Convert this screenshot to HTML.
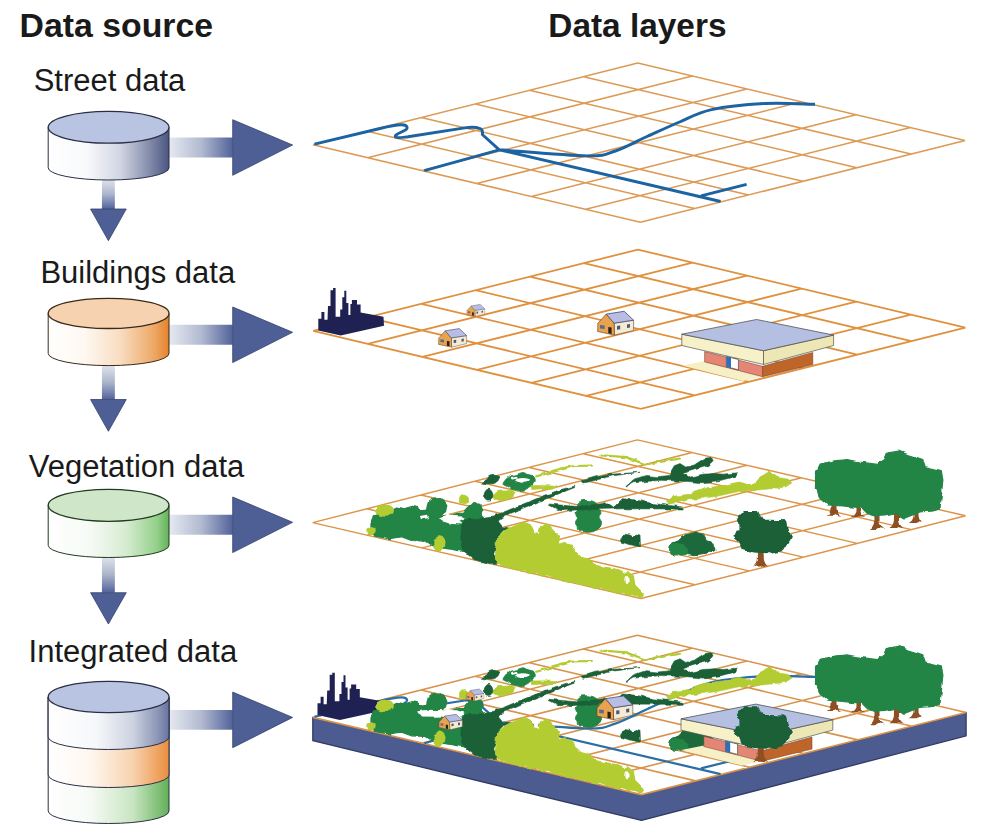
<!DOCTYPE html><html><head><meta charset="utf-8"><style>
html,body{margin:0;padding:0;background:#fff;}
svg{display:block;}
text{font-family:"Liberation Sans",sans-serif;fill:#1a1a1a;}
</style></head><body>
<svg width="982" height="836" viewBox="0 0 982 836">
<defs>
<linearGradient id="ah" x1="0" x2="1" y1="0" y2="0"><stop offset="0" stop-color="#e6e9f1"/><stop offset="0.5" stop-color="#b3bbd1"/><stop offset="1" stop-color="#52639a"/></linearGradient>
<linearGradient id="av" x1="0" x2="0" y1="0" y2="1"><stop offset="0" stop-color="#e2e5ee"/><stop offset="0.5" stop-color="#acb5cc"/><stop offset="1" stop-color="#52639a"/></linearGradient>
<linearGradient id="cb" x1="0" x2="1"><stop offset="0" stop-color="#fff"/><stop offset="0.32" stop-color="#f8f9fb"/><stop offset="0.6" stop-color="#d0d5e2"/><stop offset="0.85" stop-color="#8088a8"/><stop offset="1" stop-color="#4a5580"/></linearGradient>
<linearGradient id="co" x1="0" x2="1"><stop offset="0" stop-color="#fff"/><stop offset="0.3" stop-color="#fef8f2"/><stop offset="0.6" stop-color="#f8dcc0"/><stop offset="0.88" stop-color="#eda764"/><stop offset="1" stop-color="#e5822a"/></linearGradient>
<linearGradient id="cg" x1="0" x2="1"><stop offset="0" stop-color="#fff"/><stop offset="0.35" stop-color="#f6faf5"/><stop offset="0.65" stop-color="#d5ebd0"/><stop offset="0.9" stop-color="#94d08a"/><stop offset="1" stop-color="#62b25a"/></linearGradient>
<filter id="rough" x="-2%" y="-10%" width="104%" height="120%"><feTurbulence type="fractalNoise" baseFrequency="0.15" numOctaves="1" seed="4" result="n"/><feDisplacementMap in="SourceGraphic" in2="n" scale="4.5" xChannelSelector="R" yChannelSelector="G"/></filter>
<linearGradient id="cb2" x1="0" x2="1"><stop offset="0" stop-color="#fff"/><stop offset="0.4" stop-color="#f6f7fa"/><stop offset="0.7" stop-color="#ccd2e0"/><stop offset="0.9" stop-color="#8e98b8"/><stop offset="1" stop-color="#6874a0"/></linearGradient>
<linearGradient id="co2" x1="0" x2="1"><stop offset="0" stop-color="#fff"/><stop offset="0.35" stop-color="#fef7f0"/><stop offset="0.7" stop-color="#f8d2ae"/><stop offset="1" stop-color="#ea8e3e"/></linearGradient>
<linearGradient id="cg2" x1="0" x2="1"><stop offset="0" stop-color="#fff"/><stop offset="0.35" stop-color="#f6faf5"/><stop offset="0.7" stop-color="#c9e5c2"/><stop offset="1" stop-color="#62b058"/></linearGradient>
</defs>
<rect width="982" height="836" fill="#fff"/>

<text x="19.6" y="37.1" font-size="33.8" font-weight="bold">Data source</text>
<text x="548.3" y="37.4" font-size="33.4" font-weight="bold">Data layers</text>
<text x="33.7" y="91" font-size="31">Street data</text>
<text x="40.4" y="283" font-size="31">Buildings data</text>
<text x="28.8" y="476.5" font-size="31">Vegetation data</text>
<text x="28.6" y="661.5" font-size="31">Integrated data</text>
<path d="M169 137.55L232.7 137.55L232.7 157.45L169 157.45Z" fill="url(#ah)"/><path d="M232.7 119.7L292.6 145.0L232.7 175.3Z" fill="#4d5f95" stroke="#34426e" stroke-width="0.8" stroke-linejoin="round"/>
<path d="M101.95 179L114.85000000000001 179L114.85000000000001 209L101.95 209Z" fill="url(#av)"/><path d="M90.55000000000001 209L126.25 209L108.4 240.7Z" fill="#4d5f95" stroke="#34426e" stroke-width="0.8" stroke-linejoin="round"/>
<path d="M169 324.85L232.7 324.85L232.7 344.75L169 344.75Z" fill="url(#ah)"/><path d="M232.7 307.0L292.6 332.3L232.7 362.6Z" fill="#4d5f95" stroke="#34426e" stroke-width="0.8" stroke-linejoin="round"/>
<path d="M101.95 365L114.85000000000001 365L114.85000000000001 399.5L101.95 399.5Z" fill="url(#av)"/><path d="M90.55000000000001 399.5L126.25 399.5L108.4 431.3Z" fill="#4d5f95" stroke="#34426e" stroke-width="0.8" stroke-linejoin="round"/>
<path d="M169 514.8499999999999L232.7 514.8499999999999L232.7 534.75L169 534.75Z" fill="url(#ah)"/><path d="M232.7 496.99999999999994L292.6 522.3L232.7 552.5999999999999Z" fill="#4d5f95" stroke="#34426e" stroke-width="0.8" stroke-linejoin="round"/>
<path d="M101.95 556L114.85000000000001 556L114.85000000000001 592.7L101.95 592.7Z" fill="url(#av)"/><path d="M90.55000000000001 592.7L126.25 592.7L108.4 624Z" fill="#4d5f95" stroke="#34426e" stroke-width="0.8" stroke-linejoin="round"/>
<path d="M169 709.9499999999999L232.7 709.9499999999999L232.7 729.85L169 729.85Z" fill="url(#ah)"/><path d="M232.7 692.1L292.6 717.4L232.7 747.6999999999999Z" fill="#4d5f95" stroke="#34426e" stroke-width="0.8" stroke-linejoin="round"/>
<path d="M48.199999999999996 127.30000000000001L48.199999999999996 167.8A60.4 12.2 0 0 0 169.0 167.8L169.0 127.30000000000001Z" fill="url(#cb)" stroke="#2a2f45" stroke-width="1"/><ellipse cx="108.6" cy="127.30000000000001" rx="60.4" ry="15.9" fill="#b9c4e2" stroke="#2a2f45" stroke-width="1.3"/>
<path d="M48.199999999999996 313.40000000000003L48.199999999999996 353.40000000000003A60.4 12.2 0 0 0 169.0 353.40000000000003L169.0 313.40000000000003Z" fill="url(#co)" stroke="#3a2a1a" stroke-width="1"/><ellipse cx="108.6" cy="313.40000000000003" rx="60.4" ry="15.1" fill="#f6d2b0" stroke="#3a2a1a" stroke-width="1.3"/>
<path d="M48.199999999999996 505.3L48.199999999999996 545.3A60.4 12.2 0 0 0 169.0 545.3L169.0 505.3Z" fill="url(#cg)" stroke="#1f3a1f" stroke-width="1"/><ellipse cx="108.6" cy="505.3" rx="60.4" ry="16" fill="#cfe6c9" stroke="#1f3a1f" stroke-width="1.3"/>
<g>
<path d="M48.2 697L48.2 811A60.4 12.5 0 0 0 169 811L169 697Z" fill="url(#cg2)" stroke="#2a2f45" stroke-width="1"/>
<path d="M48.2 697L48.2 775A60.4 12.5 0 0 0 169 775L169 697Z" fill="url(#co2)" stroke="#2a2f45" stroke-width="1"/>
<path d="M48.2 697L48.2 737A60.4 12.5 0 0 0 169 737L169 697Z" fill="url(#cb2)" stroke="#2a2f45" stroke-width="1"/>
<ellipse cx="108.6" cy="697" rx="60.4" ry="15.7" fill="#b9c4e2" stroke="#2a2f45" stroke-width="1.3"/>
</g>
<path d="M313.0 144.8L640.4 222.2M313.0 144.8L637.7 63.1M367.1 131.2L694.5 208.6M367.6 157.7L692.3 76.0M421.2 117.6L748.6 195.0M422.1 170.6L746.8 88.9M475.4 104.0L802.8 181.3M476.7 183.5L801.4 101.8M529.5 90.3L856.9 167.7M531.3 196.4L856.0 114.7M583.6 76.7L911.0 154.1M585.8 209.3L910.5 127.6M637.7 63.1L965.1 140.5M640.4 222.2L965.1 140.5" stroke="#dc9a55" stroke-width="1.5" fill="none"/>
<path d="M313.2 330.9L640.7 408.9M313.2 330.9L637.9 249.6M367.3 317.3L694.8 395.3M367.8 343.9L692.5 262.6M421.4 303.8L748.9 381.8M422.4 356.9L747.1 275.6M475.5 290.2L803.0 368.2M477.0 369.9L801.7 288.6M529.7 276.7L857.2 354.7M531.5 382.9L856.2 301.6M583.8 263.1L911.3 341.1M586.1 395.9L910.8 314.6M637.9 249.6L965.4 327.6M640.7 408.9L965.4 327.6" stroke="#e0913e" stroke-width="1.8" fill="none"/>
<path d="M312.7 522.6L640.9 598.5M312.7 522.6L637.4 439.9M366.8 508.8L695.0 584.7M367.4 535.2L692.1 452.5M420.9 495.0L749.1 570.9M422.1 547.9L746.8 465.2M475.0 481.2L803.2 557.1M476.8 560.5L801.5 477.8M529.2 467.5L857.4 543.4M531.5 573.2L856.2 490.5M583.3 453.7L911.5 529.6M586.2 585.9L910.9 503.1M637.4 439.9L965.6 515.8M640.9 598.5L965.6 515.8" stroke="#dc9448" stroke-width="1.45" fill="none"/>
<path d="M314.5 144.2L380 128.5C392 125.5 400 124 404 125C408 126 408 129 404.5 130.5C400 133 394 135 395.5 137C397 138.5 402 137.5 408 136.8L464.7 127.9C470 127 476 127 480 128.5C483.5 130 482.5 132.5 482.3 134.5L499.3 149.8M424.3 170.7L499.3 149.8L720.6 201.5M499.3 149.8C513.9 150.8 567.5 155.7 586.9 155.9C606.2 156.1 605.3 154.3 615.4 151.0C625.5 147.7 636.8 141.1 647.5 136.3C658.2 131.5 668.9 126.5 679.6 122.0C690.3 117.5 697.4 112.7 711.6 109.6C725.9 106.5 747.9 104.4 765.1 103.5C782.3 102.6 806.7 104.2 815.0 104.3M701 195.8L746.6 184.4" fill="none" stroke="#1b63a3" stroke-width="2.9" stroke-linejoin="round" stroke-linecap="butt"/>
<path d="M318.3 330.4L318.3 318.7L321.4 318.7L321.4 312.1L324.4 312.1L324.4 319.7L327.5 319.7L328.0 306.0L330.5 306.0L330.5 290.2L333.1 290.2L333.1 288.1L335.6 288.1L335.6 316.7L340.2 316.7L340.2 309.5L342.3 309.5L342.3 297.3L344.3 297.3L344.3 290.7L346.3 290.7L346.3 302.9L348.4 302.9L348.4 315.1L350.4 315.1L350.4 303.9L351.9 303.9L351.9 299.9L357.0 299.9L357.0 304.4L360.6 304.4L360.6 312.6L383.5 316.7L384.0 325.8L340.7 335.5Z" fill="#1f2152"/><path d="M475.0 310.4L484.8 308.9L484.8 314.1L475.2 316.4Z" fill="#f4ead6" stroke="#5a4a3a" stroke-width="0.30"/><path d="M466.8 314.6L466.9 310.4L471.1 305.9L475.0 310.4L475.2 316.4Z" fill="#e9a24e" stroke="#5a3a1a" stroke-width="0.30"/><path d="M471.1 305.9L480.1 304.4L484.8 308.9L475.0 310.4Z" fill="#b7bde3" stroke="#4a4a6a" stroke-width="0.40"/><path d="M472.1 312.3L473.8 312.6L473.8 315.8L472.1 315.4Z" fill="#2a2020"/><path d="M468.0 311.3L470.2 311.6L470.2 313.3L468.0 313.1Z" fill="#5a6a90"/><path d="M476.5 311.8L478.1 311.6L478.1 313.4L476.5 313.7Z" fill="#4a5a70"/><path d="M481.5 311.0L483.0 310.8L483.0 312.6L481.5 312.8Z" fill="#4a5a70"/><path d="M451.4 337.9L466.6 335.6L466.6 343.6L451.6 347.2Z" fill="#f4ead6" stroke="#5a4a3a" stroke-width="0.47"/><path d="M438.5 344.4L438.8 337.9L445.2 330.8L451.4 337.9L451.6 347.2Z" fill="#e9a24e" stroke="#5a3a1a" stroke-width="0.47"/><path d="M445.2 330.8L459.3 328.6L466.6 335.6L451.4 337.9Z" fill="#b7bde3" stroke="#4a4a6a" stroke-width="0.62"/><path d="M446.9 340.9L449.5 341.3L449.5 346.3L446.9 345.8Z" fill="#2a2020"/><path d="M440.4 339.3L444.0 339.7L444.0 342.4L440.4 342.0Z" fill="#5a6a90"/><path d="M453.7 340.1L456.2 339.8L456.2 342.7L453.7 343.0Z" fill="#4a5a70"/><path d="M461.5 338.9L463.8 338.5L463.8 341.3L461.5 341.7Z" fill="#4a5a70"/><path d="M614.1 323.2L633.6 320.2L633.6 330.5L614.4 335.1Z" fill="#f4ead6" stroke="#5a4a3a" stroke-width="0.60"/><path d="M597.6 331.5L597.9 323.2L606.2 314.1L614.1 323.2L614.4 335.1Z" fill="#e9a24e" stroke="#5a3a1a" stroke-width="0.60"/><path d="M606.2 314.1L624.2 311.3L633.6 320.2L614.1 323.2Z" fill="#b7bde3" stroke="#4a4a6a" stroke-width="0.80"/><path d="M608.3 327.0L611.6 327.6L611.6 333.9L608.3 333.3Z" fill="#2a2020"/><path d="M600.0 325.0L604.6 325.5L604.6 329.0L600.0 328.5Z" fill="#5a6a90"/><path d="M617.0 326.0L620.2 325.6L620.2 329.3L617.0 329.7Z" fill="#4a5a70"/><path d="M627.0 324.4L630.0 324.0L630.0 327.6L627.0 328.0Z" fill="#4a5a70"/><path d="M682.1 365.4L704.6 361.0L762.6 376.7L742.7 381.0Z" fill="#f6f0c6"/><path d="M704.6 351.6L762.6 366.3L762.6 376.7L704.6 361.9Z" fill="#e58573" stroke="#6a3a30" stroke-width="0.5"/><path d="M762.6 366.3L812.8 352.4L812.8 364.5L762.6 376.7Z" fill="#c0652a" stroke="#6a3a20" stroke-width="0.5"/><path d="M726.3 356.4L738.4 359.5L738.4 369.8L726.3 366.7Z" fill="#fff" stroke="#333" stroke-width="0.6"/><path d="M726.3 356.4L731.0 357.6L731.0 367.9L726.3 366.7Z" fill="#2e6fb8"/><path d="M681.8 334.2L763.5 350.7L763.5 364.5L681.8 345.5Z" fill="#f6f1c8" stroke="#555" stroke-width="0.7"/><path d="M763.5 350.7L833.6 335.1L833.6 345.5L763.5 364.5Z" fill="#ece7b5" stroke="#555" stroke-width="0.7"/><path d="M681.8 334.2L756.6 319.5L833.6 335.1L763.5 350.7Z" fill="#b5bfe2" stroke="#555" stroke-width="0.8"/>
<g filter="url(#rough)"><path d="M371.0 521.5L373.4 516.7L378.3 514.8L389.3 511.8L396.7 508.1L402.8 509.3L406.4 508.1L412.5 506.3L417.4 507.5L421.1 510.0L426.6 508.7L428.4 502.0L433.3 498.3L439.4 497.7L444.3 501.4L446.8 505.7L445.5 511.8L440.7 514.8L448.0 516.7L456.5 513.6L463.9 513.0L470.0 505.7L474.9 503.8L480.0 504.4L482.0 512.0L470.0 540.0L470.0 553.0L460.2 550.9L445.5 548.4L433.3 546.0L426.0 541.1L411.3 540.5L401.5 536.8L389.3 538.7L374.7 536.2L371.0 528.9Z" fill="#248445" stroke="#248445" stroke-width="1.2" stroke-linejoin="round"/><path d="M420 516L428 514.5L429 518L421 519.5Z" fill="#fff"/><path d="M438 517.5L448 514.8L461 515.5L465 518L459 521L463 524.5L452 524L444 521.5Z" fill="#fff"/><ellipse cx="385" cy="510.5" rx="9" ry="6.3" fill="#b2cc32"/><ellipse cx="371" cy="531" rx="3.7" ry="4" fill="#b2cc32"/><ellipse cx="439.4" cy="543.5" rx="6.1" ry="7.3" fill="#b2cc32"/><ellipse cx="464" cy="499" rx="5" ry="5" fill="#b2cc32"/><path d="M470.0 511.0C470.5 508.3 471.0 505.4 472.0 504.0C473.0 502.6 474.8 502.2 476.0 502.5C477.2 502.8 478.8 503.9 479.5 505.5C480.2 507.1 479.4 509.8 480.0 512.0C480.6 514.2 484.8 517.7 483.0 519.0C481.2 520.3 471.2 521.3 469.0 520.0C466.8 518.7 469.5 513.7 470.0 511.0Z" fill="#248445" stroke="#248445" stroke-width="0.8" stroke-linejoin="round"/><path d="M461.4 526.7L464.4 520.0L470.0 519.0L478.0 519.5L486.4 517.0L492.5 516.0L499.9 513.5L506.3 511.0L520.9 504.9L541.3 496.8L561.6 489.1L574.7 486.2L574.7 487.6L561.6 492.7L541.3 500.8L520.9 509.0L506.0 515.5L498.7 520.6L503.5 526.7L513.3 529.1L503.5 530.3L497.4 536.4L496.2 546.2L493.8 553.5L498.7 563.3L488.9 563.3L474.2 559.7L468.1 554.8L462.0 548.7L460.8 538.9Z" fill="#1a6038" stroke="#1a6038" stroke-width="0.6" stroke-linejoin="round"/><path d="M581.2 481.3L594.3 477.2L613.8 474.0L640.0 472.3L613.8 475.6L594.3 480.5L582.9 482.9Z" fill="#1a6038" stroke="#1a6038" stroke-width="0.6" stroke-linejoin="round"/><path d="M496.5 537.7L506.3 529.6L517.7 524.7L524.2 522.2L530.7 525.5L534.0 532.8L538.9 534.4L540.5 526.3L543.8 523.8L551.9 527.9L558.4 536.1L560.0 544.2L565.0 542.6L571.5 544.2L576.4 552.4L581.2 557.3L587.8 558.9L595.9 565.4L604.1 567.0L613.8 568.7L620.3 570.3L625.2 573.5L628.5 571.9L633.4 576.8L635.0 585.0L639.9 589.8L643.5 594.0L641.0 597.8L600.0 588.5L560.0 579.3L520.0 570.0L500.0 565.5L495.5 558.0Z" fill="#b2cc32" stroke="#b2cc32" stroke-width="1.0" stroke-linejoin="round"/><path d="M534.5 527L538.5 526L539 533L535.5 533.5Z" fill="#fff"/><ellipse cx="627" cy="580" rx="1.6" ry="4" fill="#fff"/><path d="M578.0 503.0C579.0 501.6 581.7 500.8 584.0 500.5C586.3 500.2 589.8 500.4 592.0 501.0C594.2 501.6 595.9 502.7 597.0 504.0C598.1 505.3 597.8 507.5 598.5 509.0C599.2 510.5 600.9 511.7 601.0 513.0C601.1 514.3 598.9 515.5 599.0 517.0C599.1 518.5 601.3 520.2 601.5 522.0C601.7 523.8 601.2 526.4 600.0 528.0C598.8 529.6 596.3 530.8 594.0 531.5C591.7 532.2 588.5 532.2 586.0 532.0C583.5 531.8 580.3 531.0 579.0 530.0C577.7 529.0 578.6 527.3 578.0 526.0C577.4 524.7 575.6 523.3 575.5 522.0C575.4 520.7 577.4 519.5 577.5 518.0C577.6 516.5 575.9 514.5 576.0 513.0C576.1 511.5 577.7 510.7 578.0 509.0C578.3 507.3 577.0 504.4 578.0 503.0Z" fill="#248445" stroke="#248445" stroke-width="0.8" stroke-linejoin="round"/><path d="M620.5 540.0L623.0 534.0L630.0 535.0L633.0 537.0L636.0 534.0L640.0 535.0L640.5 547.0L636.0 546.0L628.0 544.0L621.0 542.0Z" fill="#1a6038" stroke="#1a6038" stroke-width="0.6" stroke-linejoin="round"/><path d="M669.9 549.3L672.3 543.2L678.4 540.8L683.3 535.9L693.1 532.8L702.9 534.1L706.5 540.8L711.4 542.0L715.1 549.3L707.8 553.0L695.5 554.8L683.3 553.0L674.8 554.8L669.9 553.0Z" fill="#1d6b3a" stroke="#1d6b3a" stroke-width="1.0" stroke-linejoin="round"/><path d="M670.0 552.0C669.2 550.5 669.8 547.4 670.5 546.0C671.2 544.6 672.4 543.8 674.0 543.5C675.6 543.2 678.0 543.2 680.0 544.0C682.0 544.8 684.8 546.3 686.0 548.0C687.2 549.7 688.8 552.8 687.0 554.0C685.2 555.2 677.8 555.3 675.0 555.0C672.2 554.7 670.8 553.5 670.0 552.0Z" fill="#248445" stroke="#248445" stroke-width="0.8" stroke-linejoin="round"/><path d="M549.0 504.0L578.0 506.6L604.0 503.5L606.4 502.3L613.8 507.2L622.3 498.7L635.8 499.9L652.9 503.5L682.6 507.0L682.0 509.0L621.0 508.8L560.0 510.5L549.0 505.0Z" fill="#1a6038" stroke="#1a6038" stroke-width="0.6" stroke-linejoin="round"/><path d="M626.0 486.4L633.3 479.7L645.5 475.4L657.8 476.7L668.6 475.6L674.3 465.7L680.0 463.5L685.7 467.1L694.2 465.0L704.2 458.5L711.3 457.1L713.5 461.4L708.5 465.7L694.2 469.9L682.8 473.5L688.5 477.8L702.8 474.2L714.2 473.5L722.7 474.2L729.9 473.5L737.0 472.8L735.6 476.4L719.9 480.6L702.8 482.8L685.7 481.3L660.0 480.3L633.3 482.8L626.0 487.0Z" fill="#1a6038" stroke="#1a6038" stroke-width="0.6" stroke-linejoin="round"/><path d="M665.7 501.3L674.3 496.3L688.5 494.2L707.0 487.8L722.7 485.6L739.8 482.1L751.2 485.6L759.8 477.1L768.4 472.1L776.9 477.1L788.3 479.2L791.9 482.8L785.5 487.0L759.8 489.9L739.8 491.3L717.0 496.3L688.5 499.9L668.6 504.2Z" fill="#b2cc32" stroke="#b2cc32" stroke-width="0.6" stroke-linejoin="round"/><path d="M560 468.5L575 466L591.8 465.7M601.5 455.3L626 457.1L645.5 464.4L680 458.3M536.2 476.4L570 467.2" stroke="#b2cc32" stroke-width="2.2" fill="none" stroke-linecap="round"/><path d="M503.1 483.5C503.5 482.0 506.3 478.5 508.5 477.0C510.7 475.5 513.9 475.2 516.3 474.5C518.7 473.8 521.1 472.5 523.0 472.5C524.9 472.5 525.7 473.8 527.5 474.5C529.3 475.2 532.3 475.4 533.6 476.5C534.9 477.6 535.6 479.4 535.1 481.2C534.6 483.0 532.6 485.8 530.5 487.3C528.4 488.8 525.4 490.0 522.4 490.3C519.4 490.6 514.9 490.0 512.2 489.3C509.5 488.6 507.6 487.0 506.1 486.0C504.6 485.0 502.7 485.0 503.1 483.5Z" fill="#248445" stroke="#248445" stroke-width="0.8" stroke-linejoin="round"/><ellipse cx="522.9" cy="480.4" rx="7.6" ry="2.4" fill="#fff"/><path d="M510 477.5L516 475.8L518 478.5L512 479.5Z" fill="#fff"/><path d="M531.0 485.6L545.0 485.5L557.0 486.4L555.0 488.0L543.0 488.8L531.6 489.5Z" fill="#b2cc32" stroke="#b2cc32" stroke-width="0.6" stroke-linejoin="round"/><path d="M481.2 482.5C481.5 481.8 485.7 480.5 487.0 479.5C488.3 478.5 487.8 477.2 489.0 476.5C490.2 475.8 492.3 475.3 494.0 475.4C495.7 475.5 498.4 476.0 499.0 477.0C499.6 478.0 498.2 480.4 497.5 481.5C496.8 482.6 496.6 483.2 494.5 483.5C492.4 483.8 487.2 483.7 485.0 483.5C482.8 483.3 480.9 483.2 481.2 482.5Z" fill="#1a6038" stroke="#1a6038" stroke-width="0.8" stroke-linejoin="round"/><path d="M493.4 496.0C493.9 494.6 496.1 492.3 498.0 491.5C499.9 490.7 502.7 491.1 505.0 491.0C507.3 490.9 510.4 490.1 512.0 490.6C513.6 491.1 515.5 492.6 514.8 494.0C514.1 495.4 510.5 497.9 508.0 499.0C505.5 500.1 502.2 500.6 500.0 500.8C497.8 501.0 496.1 500.8 495.0 500.0C493.9 499.2 492.9 497.4 493.4 496.0Z" fill="#b2cc32" stroke="#b2cc32" stroke-width="0.8" stroke-linejoin="round"/><path d="M484.3 494.0C484.6 492.4 485.9 490.2 487.0 489.6C488.1 489.0 490.0 489.4 491.0 490.5C492.0 491.6 493.1 494.4 492.9 496.0C492.7 497.6 491.2 499.3 490.0 499.8C488.8 500.3 486.4 500.0 485.5 499.0C484.6 498.0 484.1 495.6 484.3 494.0Z" fill="#1a6038" stroke="#1a6038" stroke-width="0.8" stroke-linejoin="round"/><path d="M831.7 500L836.3 500L836.6 510.3Q837.8 514.3 841.3 515.8L835.0 514.8L833.5 515.8L826.7 515.8Q830.2 514.3 831.4 510.3Z" fill="#8e4f22"/><path d="M855.7 503L860.3 503L860.6 512.1Q861.8 515.5 865.3 517.0L859.0 516.0L857.5 517.0L850.7 517.0Q854.2 515.5 855.4 512.1Z" fill="#8e4f22"/><path d="M874.7 508L879.3 508L879.6 521.6Q880.8 527.5 884.3 529.0L878.0 528.0L876.5 529.0L869.7 529.0Q873.2 527.5 874.4 521.6Z" fill="#8e4f22"/><path d="M894.2 508L898.8 508L899.1 521.0Q900.3 526.5 903.8 528.0L897.5 527.0L896.0 528.0L889.2 528.0Q892.7 526.5 893.9 521.0Z" fill="#8e4f22"/><path d="M913.7 506L918.3 506L918.6 517.0Q919.8 521.5 923.3 523.0L917.0 522.0L915.5 523.0L908.7 523.0Q912.2 521.5 913.4 517.0Z" fill="#8e4f22"/><path d="M816.5 471.8L820.0 464.4L834.9 460.8L847.0 459.6L859.3 462.0L876.4 464.4L883.7 459.6L886.2 453.4L898.4 451.0L908.2 454.7L915.5 457.1L922.8 459.6L925.3 466.9L941.2 470.5L942.9 479.1L940.0 508.4L932.6 511.0L920.0 512.0L910.0 516.0L905.0 518.0L895.0 514.0L885.0 516.0L876.0 516.5L868.0 514.0L862.0 508.0L852.0 507.0L842.0 506.0L827.5 504.8L820.2 498.7L816.5 488.9Z" fill="#248445" stroke="#248445" stroke-width="1.2" stroke-linejoin="round"/><path d="M758.0 546L763.5 546L763.8 559.3Q765.0 565.0 768.5 566.5L761.8 565.5L760.3 566.5L753.0 566.5Q756.5 565.0 757.8 559.3Z" fill="#8e4f22"/><path d="M740.1 515.9L744.2 511.7L757.6 511.7L760.1 516.7L761.8 520.1L785.3 520.9L786.9 529.3L791.1 536.8L786.9 543.5L782.7 550.2L771.9 552.7L754.3 551.9L742.6 549.4L739.2 541.0L734.2 536.8L735.9 532.6L740.1 531.8L740.1 524.3L736.7 520.9Z" fill="#1a6038" stroke="#1a6038" stroke-width="1.4" stroke-linejoin="round"/></g>
<path d="M312.8 717.4L641.5 794.6L966.1 712.5L966.1 735.8L641.5 820.4L312.8 740.6999999999999Z" fill="#4d5c90" stroke="#313b66" stroke-width="1.3" stroke-linejoin="round"/>
<path d="M312.8 717.4L637.4 635.3L966.1 712.5L641.5 794.6Z" fill="#fff"/>
<path d="M312.8 717.4L641.5 794.6M312.8 717.4L637.4 635.3M366.9 703.7L695.6 780.9M367.6 730.3L692.2 648.2M421.0 690.0L749.7 767.2M422.4 743.1L747.0 661.0M475.1 676.3L803.8 753.5M477.1 756.0L801.8 673.9M529.2 662.7L857.9 739.9M531.9 768.9L856.5 686.8M583.3 649.0L912.0 726.2M586.7 781.7L911.3 699.6M637.4 635.3L966.1 712.5M641.5 794.6L966.1 712.5" stroke="#d8934c" stroke-width="1.6" fill="none"/>
<g transform="translate(0,572.6)"><path d="M314.5 144.2L380 128.5C392 125.5 400 124 404 125C408 126 408 129 404.5 130.5C400 133 394 135 395.5 137C397 138.5 402 137.5 408 136.8L464.7 127.9C470 127 476 127 480 128.5C483.5 130 482.5 132.5 482.3 134.5L499.3 149.8M424.3 170.7L499.3 149.8L720.6 201.5M499.3 149.8C513.9 150.8 567.5 155.7 586.9 155.9C606.2 156.1 605.3 154.3 615.4 151.0C625.5 147.7 636.8 141.1 647.5 136.3C658.2 131.5 668.9 126.5 679.6 122.0C690.3 117.5 697.4 112.7 711.6 109.6C725.9 106.5 747.9 104.4 765.1 103.5C782.3 102.6 806.7 104.2 815.0 104.3M701 195.8L746.6 184.4" fill="none" stroke="#2a6ea8" stroke-width="2.2" stroke-linejoin="round" stroke-linecap="butt"/></g>
<g transform="translate(-0.8,384.6)"><path d="M318.3 330.4L318.3 318.7L321.4 318.7L321.4 312.1L324.4 312.1L324.4 319.7L327.5 319.7L328.0 306.0L330.5 306.0L330.5 290.2L333.1 290.2L333.1 288.1L335.6 288.1L335.6 316.7L340.2 316.7L340.2 309.5L342.3 309.5L342.3 297.3L344.3 297.3L344.3 290.7L346.3 290.7L346.3 302.9L348.4 302.9L348.4 315.1L350.4 315.1L350.4 303.9L351.9 303.9L351.9 299.9L357.0 299.9L357.0 304.4L360.6 304.4L360.6 312.6L383.5 316.7L384.0 325.8L340.7 335.5Z" fill="#1f2152"/></g>
<g transform="translate(0,195.3)"><g filter="url(#rough)"><path d="M371.0 521.5L373.4 516.7L378.3 514.8L389.3 511.8L396.7 508.1L402.8 509.3L406.4 508.1L412.5 506.3L417.4 507.5L421.1 510.0L426.6 508.7L428.4 502.0L433.3 498.3L439.4 497.7L444.3 501.4L446.8 505.7L445.5 511.8L440.7 514.8L448.0 516.7L456.5 513.6L463.9 513.0L470.0 505.7L474.9 503.8L480.0 504.4L482.0 512.0L470.0 540.0L470.0 553.0L460.2 550.9L445.5 548.4L433.3 546.0L426.0 541.1L411.3 540.5L401.5 536.8L389.3 538.7L374.7 536.2L371.0 528.9Z" fill="#248445" stroke="#248445" stroke-width="1.2" stroke-linejoin="round"/><path d="M420 516L428 514.5L429 518L421 519.5Z" fill="#fff"/><path d="M438 517.5L448 514.8L461 515.5L465 518L459 521L463 524.5L452 524L444 521.5Z" fill="#fff"/><ellipse cx="385" cy="510.5" rx="9" ry="6.3" fill="#b2cc32"/><ellipse cx="371" cy="531" rx="3.7" ry="4" fill="#b2cc32"/><ellipse cx="439.4" cy="543.5" rx="6.1" ry="7.3" fill="#b2cc32"/><ellipse cx="464" cy="499" rx="5" ry="5" fill="#b2cc32"/><path d="M470.0 511.0C470.5 508.3 471.0 505.4 472.0 504.0C473.0 502.6 474.8 502.2 476.0 502.5C477.2 502.8 478.8 503.9 479.5 505.5C480.2 507.1 479.4 509.8 480.0 512.0C480.6 514.2 484.8 517.7 483.0 519.0C481.2 520.3 471.2 521.3 469.0 520.0C466.8 518.7 469.5 513.7 470.0 511.0Z" fill="#248445" stroke="#248445" stroke-width="0.8" stroke-linejoin="round"/><path d="M461.4 526.7L464.4 520.0L470.0 519.0L478.0 519.5L486.4 517.0L492.5 516.0L499.9 513.5L506.3 511.0L520.9 504.9L541.3 496.8L561.6 489.1L574.7 486.2L574.7 487.6L561.6 492.7L541.3 500.8L520.9 509.0L506.0 515.5L498.7 520.6L503.5 526.7L513.3 529.1L503.5 530.3L497.4 536.4L496.2 546.2L493.8 553.5L498.7 563.3L488.9 563.3L474.2 559.7L468.1 554.8L462.0 548.7L460.8 538.9Z" fill="#1a6038" stroke="#1a6038" stroke-width="0.6" stroke-linejoin="round"/><path d="M581.2 481.3L594.3 477.2L613.8 474.0L640.0 472.3L613.8 475.6L594.3 480.5L582.9 482.9Z" fill="#1a6038" stroke="#1a6038" stroke-width="0.6" stroke-linejoin="round"/><path d="M496.5 537.7L506.3 529.6L517.7 524.7L524.2 522.2L530.7 525.5L534.0 532.8L538.9 534.4L540.5 526.3L543.8 523.8L551.9 527.9L558.4 536.1L560.0 544.2L565.0 542.6L571.5 544.2L576.4 552.4L581.2 557.3L587.8 558.9L595.9 565.4L604.1 567.0L613.8 568.7L620.3 570.3L625.2 573.5L628.5 571.9L633.4 576.8L635.0 585.0L639.9 589.8L643.5 594.0L641.0 597.8L600.0 588.5L560.0 579.3L520.0 570.0L500.0 565.5L495.5 558.0Z" fill="#b2cc32" stroke="#b2cc32" stroke-width="1.0" stroke-linejoin="round"/><path d="M534.5 527L538.5 526L539 533L535.5 533.5Z" fill="#fff"/><ellipse cx="627" cy="580" rx="1.6" ry="4" fill="#fff"/><path d="M578.0 503.0C579.0 501.6 581.7 500.8 584.0 500.5C586.3 500.2 589.8 500.4 592.0 501.0C594.2 501.6 595.9 502.7 597.0 504.0C598.1 505.3 597.8 507.5 598.5 509.0C599.2 510.5 600.9 511.7 601.0 513.0C601.1 514.3 598.9 515.5 599.0 517.0C599.1 518.5 601.3 520.2 601.5 522.0C601.7 523.8 601.2 526.4 600.0 528.0C598.8 529.6 596.3 530.8 594.0 531.5C591.7 532.2 588.5 532.2 586.0 532.0C583.5 531.8 580.3 531.0 579.0 530.0C577.7 529.0 578.6 527.3 578.0 526.0C577.4 524.7 575.6 523.3 575.5 522.0C575.4 520.7 577.4 519.5 577.5 518.0C577.6 516.5 575.9 514.5 576.0 513.0C576.1 511.5 577.7 510.7 578.0 509.0C578.3 507.3 577.0 504.4 578.0 503.0Z" fill="#248445" stroke="#248445" stroke-width="0.8" stroke-linejoin="round"/><path d="M620.5 540.0L623.0 534.0L630.0 535.0L633.0 537.0L636.0 534.0L640.0 535.0L640.5 547.0L636.0 546.0L628.0 544.0L621.0 542.0Z" fill="#1a6038" stroke="#1a6038" stroke-width="0.6" stroke-linejoin="round"/><path d="M669.9 549.3L672.3 543.2L678.4 540.8L683.3 535.9L693.1 532.8L702.9 534.1L706.5 540.8L711.4 542.0L715.1 549.3L707.8 553.0L695.5 554.8L683.3 553.0L674.8 554.8L669.9 553.0Z" fill="#1d6b3a" stroke="#1d6b3a" stroke-width="1.0" stroke-linejoin="round"/><path d="M670.0 552.0C669.2 550.5 669.8 547.4 670.5 546.0C671.2 544.6 672.4 543.8 674.0 543.5C675.6 543.2 678.0 543.2 680.0 544.0C682.0 544.8 684.8 546.3 686.0 548.0C687.2 549.7 688.8 552.8 687.0 554.0C685.2 555.2 677.8 555.3 675.0 555.0C672.2 554.7 670.8 553.5 670.0 552.0Z" fill="#248445" stroke="#248445" stroke-width="0.8" stroke-linejoin="round"/><path d="M549.0 504.0L578.0 506.6L604.0 503.5L606.4 502.3L613.8 507.2L622.3 498.7L635.8 499.9L652.9 503.5L682.6 507.0L682.0 509.0L621.0 508.8L560.0 510.5L549.0 505.0Z" fill="#1a6038" stroke="#1a6038" stroke-width="0.6" stroke-linejoin="round"/><path d="M626.0 486.4L633.3 479.7L645.5 475.4L657.8 476.7L668.6 475.6L674.3 465.7L680.0 463.5L685.7 467.1L694.2 465.0L704.2 458.5L711.3 457.1L713.5 461.4L708.5 465.7L694.2 469.9L682.8 473.5L688.5 477.8L702.8 474.2L714.2 473.5L722.7 474.2L729.9 473.5L737.0 472.8L735.6 476.4L719.9 480.6L702.8 482.8L685.7 481.3L660.0 480.3L633.3 482.8L626.0 487.0Z" fill="#1a6038" stroke="#1a6038" stroke-width="0.6" stroke-linejoin="round"/><path d="M665.7 501.3L674.3 496.3L688.5 494.2L707.0 487.8L722.7 485.6L739.8 482.1L751.2 485.6L759.8 477.1L768.4 472.1L776.9 477.1L788.3 479.2L791.9 482.8L785.5 487.0L759.8 489.9L739.8 491.3L717.0 496.3L688.5 499.9L668.6 504.2Z" fill="#b2cc32" stroke="#b2cc32" stroke-width="0.6" stroke-linejoin="round"/><path d="M560 468.5L575 466L591.8 465.7M601.5 455.3L626 457.1L645.5 464.4L680 458.3M536.2 476.4L570 467.2" stroke="#b2cc32" stroke-width="2.2" fill="none" stroke-linecap="round"/><path d="M503.1 483.5C503.5 482.0 506.3 478.5 508.5 477.0C510.7 475.5 513.9 475.2 516.3 474.5C518.7 473.8 521.1 472.5 523.0 472.5C524.9 472.5 525.7 473.8 527.5 474.5C529.3 475.2 532.3 475.4 533.6 476.5C534.9 477.6 535.6 479.4 535.1 481.2C534.6 483.0 532.6 485.8 530.5 487.3C528.4 488.8 525.4 490.0 522.4 490.3C519.4 490.6 514.9 490.0 512.2 489.3C509.5 488.6 507.6 487.0 506.1 486.0C504.6 485.0 502.7 485.0 503.1 483.5Z" fill="#248445" stroke="#248445" stroke-width="0.8" stroke-linejoin="round"/><ellipse cx="522.9" cy="480.4" rx="7.6" ry="2.4" fill="#fff"/><path d="M510 477.5L516 475.8L518 478.5L512 479.5Z" fill="#fff"/><path d="M531.0 485.6L545.0 485.5L557.0 486.4L555.0 488.0L543.0 488.8L531.6 489.5Z" fill="#b2cc32" stroke="#b2cc32" stroke-width="0.6" stroke-linejoin="round"/><path d="M481.2 482.5C481.5 481.8 485.7 480.5 487.0 479.5C488.3 478.5 487.8 477.2 489.0 476.5C490.2 475.8 492.3 475.3 494.0 475.4C495.7 475.5 498.4 476.0 499.0 477.0C499.6 478.0 498.2 480.4 497.5 481.5C496.8 482.6 496.6 483.2 494.5 483.5C492.4 483.8 487.2 483.7 485.0 483.5C482.8 483.3 480.9 483.2 481.2 482.5Z" fill="#1a6038" stroke="#1a6038" stroke-width="0.8" stroke-linejoin="round"/><path d="M493.4 496.0C493.9 494.6 496.1 492.3 498.0 491.5C499.9 490.7 502.7 491.1 505.0 491.0C507.3 490.9 510.4 490.1 512.0 490.6C513.6 491.1 515.5 492.6 514.8 494.0C514.1 495.4 510.5 497.9 508.0 499.0C505.5 500.1 502.2 500.6 500.0 500.8C497.8 501.0 496.1 500.8 495.0 500.0C493.9 499.2 492.9 497.4 493.4 496.0Z" fill="#b2cc32" stroke="#b2cc32" stroke-width="0.8" stroke-linejoin="round"/><path d="M484.3 494.0C484.6 492.4 485.9 490.2 487.0 489.6C488.1 489.0 490.0 489.4 491.0 490.5C492.0 491.6 493.1 494.4 492.9 496.0C492.7 497.6 491.2 499.3 490.0 499.8C488.8 500.3 486.4 500.0 485.5 499.0C484.6 498.0 484.1 495.6 484.3 494.0Z" fill="#1a6038" stroke="#1a6038" stroke-width="0.8" stroke-linejoin="round"/><path d="M831.7 500L836.3 500L836.6 510.3Q837.8 514.3 841.3 515.8L835.0 514.8L833.5 515.8L826.7 515.8Q830.2 514.3 831.4 510.3Z" fill="#8e4f22"/><path d="M855.7 503L860.3 503L860.6 512.1Q861.8 515.5 865.3 517.0L859.0 516.0L857.5 517.0L850.7 517.0Q854.2 515.5 855.4 512.1Z" fill="#8e4f22"/><path d="M874.7 508L879.3 508L879.6 521.6Q880.8 527.5 884.3 529.0L878.0 528.0L876.5 529.0L869.7 529.0Q873.2 527.5 874.4 521.6Z" fill="#8e4f22"/><path d="M894.2 508L898.8 508L899.1 521.0Q900.3 526.5 903.8 528.0L897.5 527.0L896.0 528.0L889.2 528.0Q892.7 526.5 893.9 521.0Z" fill="#8e4f22"/><path d="M913.7 506L918.3 506L918.6 517.0Q919.8 521.5 923.3 523.0L917.0 522.0L915.5 523.0L908.7 523.0Q912.2 521.5 913.4 517.0Z" fill="#8e4f22"/><path d="M816.5 471.8L820.0 464.4L834.9 460.8L847.0 459.6L859.3 462.0L876.4 464.4L883.7 459.6L886.2 453.4L898.4 451.0L908.2 454.7L915.5 457.1L922.8 459.6L925.3 466.9L941.2 470.5L942.9 479.1L940.0 508.4L932.6 511.0L920.0 512.0L910.0 516.0L905.0 518.0L895.0 514.0L885.0 516.0L876.0 516.5L868.0 514.0L862.0 508.0L852.0 507.0L842.0 506.0L827.5 504.8L820.2 498.7L816.5 488.9Z" fill="#248445" stroke="#248445" stroke-width="1.2" stroke-linejoin="round"/></g></g>
<g filter="url(#rough)"><path d="M417 711.5L428 709.8L445 710.2L458 710.8L463 712.5L462 716.5L450 716.2L436 716.8L421 716.5Z" fill="#fff"/></g>
<g transform="translate(-0.8,384.6)"><path d="M475.0 310.4L484.8 308.9L484.8 314.1L475.2 316.4Z" fill="#f4ead6" stroke="#5a4a3a" stroke-width="0.30"/><path d="M466.8 314.6L466.9 310.4L471.1 305.9L475.0 310.4L475.2 316.4Z" fill="#e9a24e" stroke="#5a3a1a" stroke-width="0.30"/><path d="M471.1 305.9L480.1 304.4L484.8 308.9L475.0 310.4Z" fill="#b7bde3" stroke="#4a4a6a" stroke-width="0.40"/><path d="M472.1 312.3L473.8 312.6L473.8 315.8L472.1 315.4Z" fill="#2a2020"/><path d="M468.0 311.3L470.2 311.6L470.2 313.3L468.0 313.1Z" fill="#5a6a90"/><path d="M476.5 311.8L478.1 311.6L478.1 313.4L476.5 313.7Z" fill="#4a5a70"/><path d="M481.5 311.0L483.0 310.8L483.0 312.6L481.5 312.8Z" fill="#4a5a70"/><path d="M450.4 337.4L463.1 335.5L463.1 342.2L450.6 345.2Z" fill="#f4ead6" stroke="#5a4a3a" stroke-width="0.39"/><path d="M439.7 342.8L439.9 337.4L445.3 331.5L450.4 337.4L450.6 345.2Z" fill="#e9a24e" stroke="#5a3a1a" stroke-width="0.39"/><path d="M445.3 331.5L457.0 329.7L463.1 335.5L450.4 337.4Z" fill="#b7bde3" stroke="#4a4a6a" stroke-width="0.52"/><path d="M446.6 339.9L448.8 340.3L448.8 344.4L446.6 344.0Z" fill="#2a2020"/><path d="M441.3 338.6L444.2 338.9L444.2 341.2L441.3 340.9Z" fill="#5a6a90"/><path d="M452.3 339.2L454.4 339.0L454.4 341.4L452.3 341.7Z" fill="#4a5a70"/><path d="M458.8 338.2L460.8 337.9L460.8 340.3L458.8 340.6Z" fill="#4a5a70"/><path d="M614.1 323.2L633.6 320.2L633.6 330.5L614.4 335.1Z" fill="#f4ead6" stroke="#5a4a3a" stroke-width="0.60"/><path d="M597.6 331.5L597.9 323.2L606.2 314.1L614.1 323.2L614.4 335.1Z" fill="#e9a24e" stroke="#5a3a1a" stroke-width="0.60"/><path d="M606.2 314.1L624.2 311.3L633.6 320.2L614.1 323.2Z" fill="#b7bde3" stroke="#4a4a6a" stroke-width="0.80"/><path d="M608.3 327.0L611.6 327.6L611.6 333.9L608.3 333.3Z" fill="#2a2020"/><path d="M600.0 325.0L604.6 325.5L604.6 329.0L600.0 328.5Z" fill="#5a6a90"/><path d="M617.0 326.0L620.2 325.6L620.2 329.3L617.0 329.7Z" fill="#4a5a70"/><path d="M627.0 324.4L630.0 324.0L630.0 327.6L627.0 328.0Z" fill="#4a5a70"/><path d="M682.1 365.4L704.6 361.0L762.6 376.7L742.7 381.0Z" fill="#f6f0c6"/><path d="M704.6 351.6L762.6 366.3L762.6 376.7L704.6 361.9Z" fill="#e58573" stroke="#6a3a30" stroke-width="0.5"/><path d="M762.6 366.3L812.8 352.4L812.8 364.5L762.6 376.7Z" fill="#c0652a" stroke="#6a3a20" stroke-width="0.5"/><path d="M726.3 356.4L738.4 359.5L738.4 369.8L726.3 366.7Z" fill="#fff" stroke="#333" stroke-width="0.6"/><path d="M726.3 356.4L731.0 357.6L731.0 367.9L726.3 366.7Z" fill="#2e6fb8"/><path d="M681.8 334.2L763.5 350.7L763.5 364.5L681.8 345.5Z" fill="#f6f1c8" stroke="#555" stroke-width="0.7"/><path d="M763.5 350.7L833.6 335.1L833.6 345.5L763.5 364.5Z" fill="#ece7b5" stroke="#555" stroke-width="0.7"/><path d="M681.8 334.2L756.6 319.5L833.6 335.1L763.5 350.7Z" fill="#b5bfe2" stroke="#555" stroke-width="0.8"/></g>
<g transform="translate(0,195.3)"><g filter="url(#rough)"><path d="M758.0 546L763.5 546L763.8 559.3Q765.0 565.0 768.5 566.5L761.8 565.5L760.3 566.5L753.0 566.5Q756.5 565.0 757.8 559.3Z" fill="#8e4f22"/><path d="M740.1 515.9L744.2 511.7L757.6 511.7L760.1 516.7L761.8 520.1L785.3 520.9L786.9 529.3L791.1 536.8L786.9 543.5L782.7 550.2L771.9 552.7L754.3 551.9L742.6 549.4L739.2 541.0L734.2 536.8L735.9 532.6L740.1 531.8L740.1 524.3L736.7 520.9Z" fill="#1a6038" stroke="#1a6038" stroke-width="1.4" stroke-linejoin="round"/></g></g>
</svg></body></html>
